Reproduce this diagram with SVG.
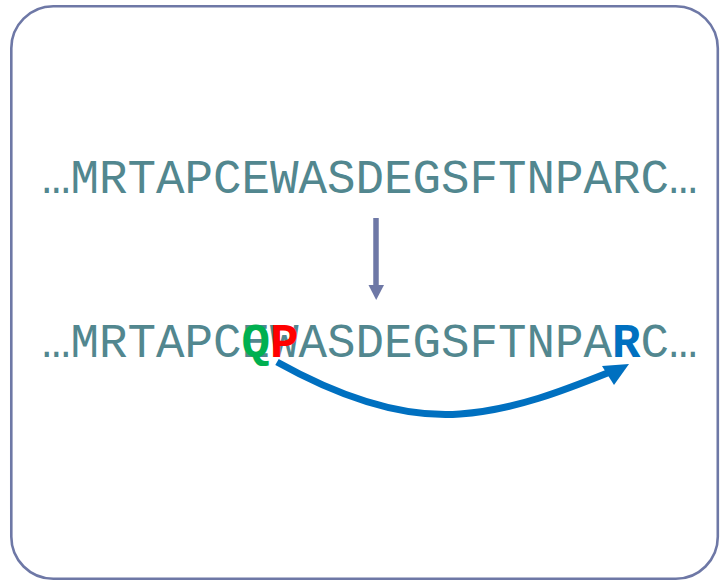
<svg xmlns="http://www.w3.org/2000/svg" width="720" height="581" viewBox="0 0 720 581">
  <style>
    .seq { font-family: "Courier New", "Nimbus Mono PS", "FreeMono", "Liberation Mono", monospace; font-size: 47.5px; fill: #52878F; }
    .mut { font-family: "Courier New", "Nimbus Mono PS", "FreeMono", "Liberation Mono", monospace; font-size: 47.5px; font-weight: bold; }
  </style>
  <!-- outer frame -->
  <rect x="11.3" y="6.3" width="706.5" height="572.5" rx="42" ry="42" fill="#FFFFFF" stroke="#6E78A6" stroke-width="2.6"/>

  <g id="original-sequence">
    <text class="seq" x="42" y="193">…MRTAPCEWASDEGSFTNPARC…</text>
  </g>

  <g id="mutated-sequence">
    <text class="seq" x="42" y="357">…MRTAPCEWASDEGSFTNPA<tspan class="mut" fill="#0070C0">R</tspan>C…</text>
    <!-- substituted residues drawn over the original letters -->
    <text class="mut" x="241.5" y="357" fill="#00B050">Q</text>
    <text class="mut" x="270" y="357" fill="#FF0000">P</text>
  </g>

  <g id="connectors">
    <line x1="376" y1="218" x2="376" y2="287" stroke="#6E78A6" stroke-width="5.5"/>
    <polygon points="368.5,285 384,285 376.2,300" fill="#6E78A6"/>
    <path d="M277,362 C345,400 405,418 460,414 C515,410 565,390 610,372" fill="none" stroke="#0070C0" stroke-width="7"/>
    <polygon points="629,364 602,366 614,385" fill="#0070C0"/>
  </g>
</svg>
